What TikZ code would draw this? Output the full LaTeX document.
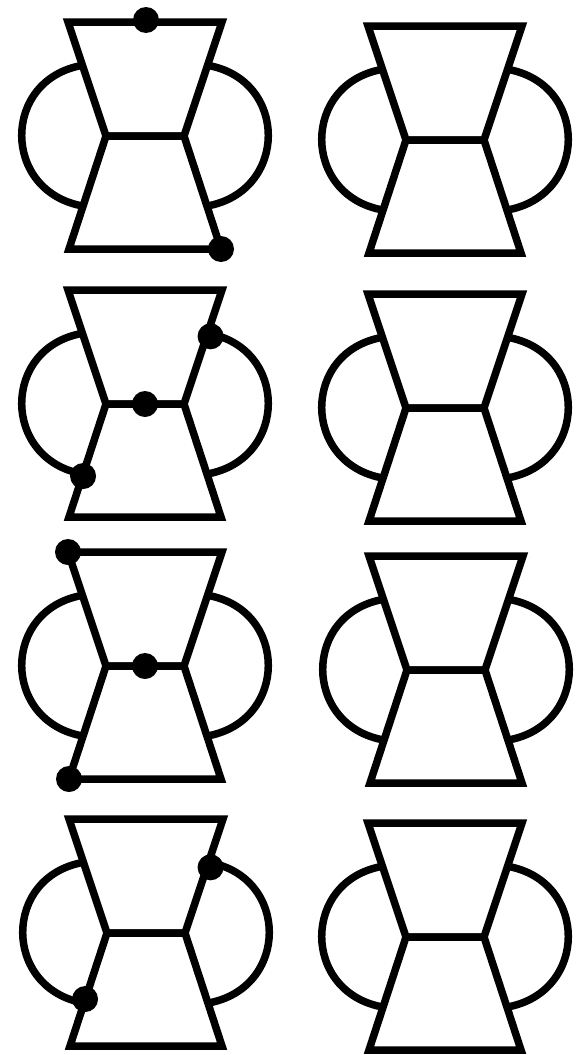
\documentclass[tikz,border=0pt]{standalone}
\usetikzlibrary{calc}

\begin{document}
\begin{tikzpicture}[
    x=1pt, y=1pt,
    edge/.style={line width=7.5pt, black},
    vtx/.style={circle, fill=black, inner sep=0pt, minimum size=26pt},
]
\useasboundingbox (0,0) rectangle (579,-1055);

% eight copies of the hourglass graph, left column marked, right column plain
\foreach \p/\cx/\cy in {a/145/136, b/445/140, c/145/404, d/445/408,
                        e/145/666, f/446/670, g/146/933, h/445/937} {
    \coordinate (\p-tl) at (\cx-77,-\cy+114);
    \coordinate (\p-tr) at (\cx+77,-\cy+114);
    \coordinate (\p-ml) at (\cx-39,-\cy);
    \coordinate (\p-mr) at (\cx+39,-\cy);
    \coordinate (\p-bl) at (\cx-76,-\cy-113);
    \coordinate (\p-br) at (\cx+76,-\cy-113);
    \coordinate (\p-lu) at ($(\p-tl)!0.38!(\p-ml)$);
    \coordinate (\p-ru) at ($(\p-tr)!0.38!(\p-mr)$);
    \coordinate (\p-ld) at ($(\p-ml)!0.62!(\p-bl)$);
    \coordinate (\p-rd) at ($(\p-mr)!0.62!(\p-br)$);
    \draw[edge] (\p-tl) -- (\p-tr) -- (\p-mr) -- (\p-ml) -- cycle;
    \draw[edge] (\p-ml) -- (\p-bl) -- (\p-br) -- (\p-mr) -- cycle;
    \draw[edge] (\p-lu) to[out=190, in=170, looseness=1.5] (\p-ld);
    \draw[edge] (\p-ru) to[out=-10, in=10, looseness=1.5] (\p-rd);
}

% marked vertices
\node[vtx] (a1) at ($(a-tl)!0.5!(a-tr)+(1,2)$) {};
\node[vtx] (a2) at (a-br) {};
\node[vtx] (c1) at ($(c-ru)+(3,-3)$) {};
\node[vtx] (c2) at ($(c-ml)!0.5!(c-mr)$) {};
\node[vtx] (c3) at ($(c-ld)+(0,-2)$) {};
\node[vtx] (e1) at (e-tl) {};
\node[vtx] (e2) at ($(e-ml)!0.5!(e-mr)$) {};
\node[vtx] (e3) at (e-bl) {};
\node[vtx] (g1) at ($(g-ru)+(2,-5)$) {};
\node[vtx] (g2) at ($(g-ld)+(1,4)$) {};
\end{tikzpicture}
\end{document}
